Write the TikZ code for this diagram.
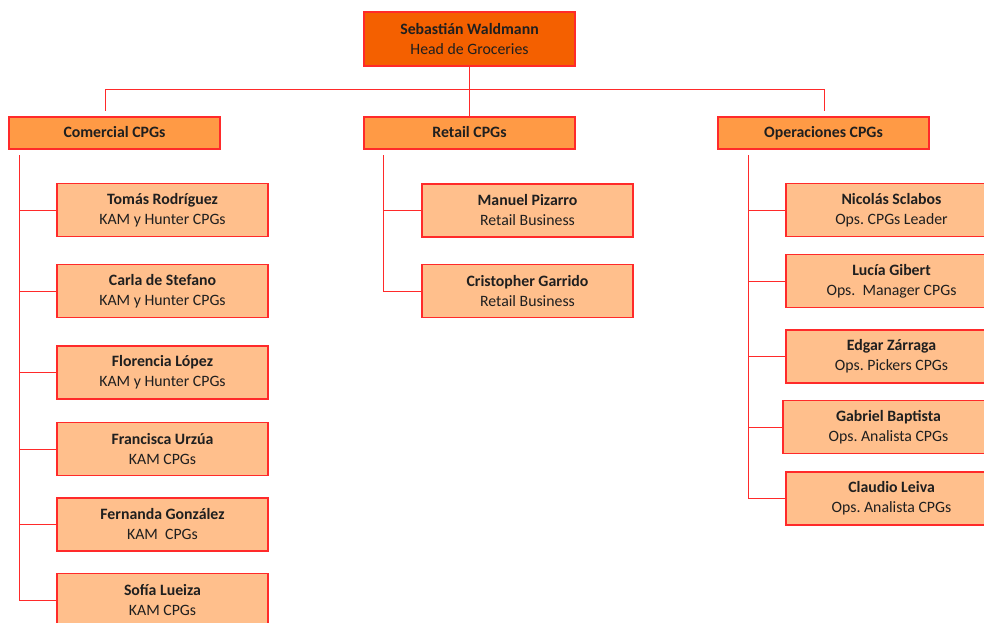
\documentclass[tikz,border=0pt]{standalone}
\usepackage{fontspec}
\setmainfont{Carlito}
\frenchspacing
\definecolor{topfill}{HTML}{F46000}
\definecolor{midfill}{HTML}{FF9A45}
\definecolor{kidfill}{HTML}{FFBF8C}
\definecolor{edge}{HTML}{FF2A2A}
\begin{document}
\begin{tikzpicture}[x=1pt,y=-1pt,
  box/.style={draw=edge,line width=1.2pt,rectangle,inner sep=0pt,
    minimum width=211pt,align=center,font=\fontsize{15.8}{20}\selectfont,text=black!88},
  headbox/.style={box,fill=topfill,minimum height=54pt},
  deptbox/.style={box,fill=midfill,minimum height=32pt},
  kidbox/.style={box,fill=kidfill,minimum height=53pt},
  link/.style={draw=edge,line width=1pt}]
\useasboundingbox (0,0) rectangle (984,622);
\fill[white] (0,0) rectangle (984,622);
% head
\node[headbox] (head) at (469.5,39) {\textbf{Sebastián Waldmann}\\Head de Groceries};
% departments
\node[deptbox] (com) at (114.5,133) {\textbf{Comercial CPGs}\strut};
\node[deptbox] (ret) at (469.5,133) {\textbf{Retail CPGs}\strut};
\node[deptbox] (ops) at (823.5,133) {\textbf{Operaciones CPGs}\strut};
% comercial children
\node[kidbox] (c1) at (162.5,210) {\textbf{Tomás Rodríguez}\\KAM y Hunter CPGs};
\node[kidbox] (c2) at (162.5,291) {\textbf{Carla de Stefano}\\KAM y Hunter CPGs};
\node[kidbox] (c3) at (162.5,372.5) {\textbf{Florencia López}\\KAM y Hunter CPGs};
\node[kidbox] (c4) at (162.5,449) {\textbf{Francisca Urzúa}\\KAM CPGs};
\node[kidbox] (c5) at (162.5,524.5) {\textbf{Fernanda González}\\KAM\ \ CPGs};
\node[kidbox] (c6) at (162.5,600) {\textbf{Sofía Lueiza}\\KAM CPGs};
% retail children
\node[kidbox] (r1) at (527.5,210.5) {\textbf{Manuel Pizarro}\\Retail Business};
\node[kidbox] (r2) at (527.5,291) {\textbf{Cristopher Garrido}\\Retail Business};
% ops children
\node[kidbox] (o1) at (891.5,210) {\textbf{Nicolás Sclabos}\\Ops. CPGs Leader};
\node[kidbox] (o2) at (891.5,281) {\textbf{Lucía Gibert}\\Ops.\ \ Manager CPGs};
\node[kidbox] (o3) at (891.5,356.5) {\textbf{Edgar Zárraga}\\Ops. Pickers CPGs};
\node[kidbox] (o4) at (888.5,427) {\textbf{Gabriel Baptista}\\Ops. Analista CPGs};
\node[kidbox] (o5) at (891.5,498.5) {\textbf{Claudio Leiva}\\Ops. Analista CPGs};
% top connectors
\coordinate (hl) at (105,89);
\coordinate (hr) at (824,89);
\path[link] (head.south) -- (ret.north);
\path[link] (hl) -- (hr);
\path[link] (hl) -- (105,111);
\path[link] (hr) -- (824,111);
% comercial trunk
\coordinate (ct) at (19,155);
\path[link] (ct) |- (c6.west);
\foreach \n in {c1,c2,c3,c4,c5}{\path[link] (19,0 |- \n.west) -- (\n.west);}
% retail trunk
\coordinate (rt) at (383,155);
\path[link] (rt) |- (r2.west);
\path[link] (383,0 |- r1.west) -- (r1.west);
% ops trunk
\coordinate (ot) at (748,155);
\path[link] (ot) |- (o5.west);
\foreach \n in {o1,o2,o3,o4}{\path[link] (748,0 |- \n.west) -- (\n.west);}
\end{tikzpicture}
\end{document}
